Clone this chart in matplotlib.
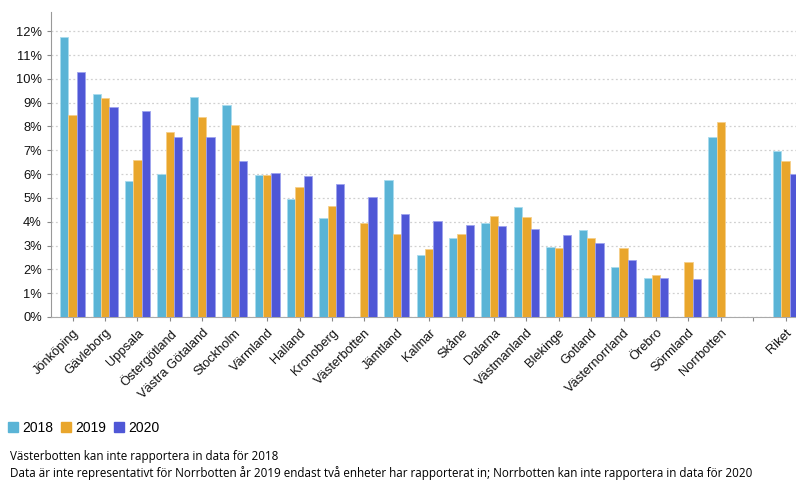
import numpy as np
import matplotlib.pyplot as plt
from matplotlib.patches import Patch
from matplotlib.ticker import FuncFormatter

plt.rcParams['font.family'] = ['Liberation Sans', 'DejaVu Sans']

# data
regions = ['Jönköping', 'Gävleborg', 'Uppsala', 'Östergötland', 'Västra Götaland',
           'Stockholm', 'Värmland', 'Halland', 'Kronoberg', 'Västerbotten',
           'Jämtland', 'Kalmar', 'Skåne', 'Dalarna', 'Västmanland', 'Blekinge',
           'Gotland', 'Västernorrland', 'Örebro', 'Sörmland', 'Norrbotten', '', 'Riket']
nan = np.nan
v2018 = [11.74, 9.38, 5.70, 5.99, 9.22, 8.92, 5.98, 4.94, 4.17, nan, 5.77, 2.61,
         3.31, 3.94, 4.61, 2.94, 3.64, 2.09, 1.65, nan, 7.54, nan, 6.96]
v2019 = [8.47, 9.19, 6.58, 7.76, 8.39, 8.05, 5.98, 5.46, 4.66, 3.94, 3.47, 2.84,
         3.50, 4.23, 4.20, 2.91, 3.31, 2.89, 1.78, 2.30, 8.18, nan, 6.57]
v2020 = [10.28, 8.80, 8.66, 7.56, 7.54, 6.53, 6.06, 5.91, 5.57, 5.03, 4.34, 4.05,
         3.87, 3.81, 3.70, 3.43, 3.11, 2.38, 1.65, 1.61, nan, nan, 5.99]
years = ['2018', '2019', '2020']
colors = ['#5ab4d6', '#e9a62c', '#4f57d6']
edges = ['#a9dcee', '#f6cf8a', '#9ea3ee']

fig = plt.figure(figsize=(7.96, 4.8), dpi=100)
ax = fig.add_axes([0.064, 0.3396, 0.936, 0.635])

x = np.arange(len(regions))
w = 0.257
for i, vals in enumerate([v2018, v2019, v2020]):
    ax.bar(x + (i - 1) * w, vals, width=w, color=colors[i],
           edgecolor=edges[i], linewidth=0.6, zorder=3)

ax.set_ylim(0, 12.8)
ax.set_xlim(-0.67, 22.32)
ax.set_yticks(range(0, 13))
ax.yaxis.set_major_formatter(FuncFormatter(lambda v, p: f'{v:.0f}%'))
ax.set_xticks(x)
ax.set_xticklabels(regions, rotation=45, ha='right', rotation_mode='anchor')
ax.tick_params(axis='both', labelsize=9.3, colors='#888888', length=3, width=0.8,
               labelcolor='#111111')
ax.tick_params(axis='x', pad=4)
ax.grid(axis='y', linestyle=(0, (1.5, 2)), color='#d0d0d0', linewidth=0.9, zorder=0)
for s in ['top', 'right']:
    ax.spines[s].set_visible(False)
ax.spines['left'].set_color('#999999')
ax.spines['bottom'].set_color('#aaaaaa')

handles = [Patch(color=c) for c in colors]
fig.legend(handles, years, loc='center left', bbox_to_anchor=(0.003, 0.108),
           ncol=3, frameon=False, fontsize=10, handlelength=0.7, handleheight=0.7,
           handletextpad=0.3, columnspacing=0.6, borderaxespad=0)

fig.text(0.013, 0.048, 'Västerbotten kan inte rapportera in data för 2018',
         fontsize=8.4, va='center', family=['Open Sans', 'DejaVu Sans'])
fig.text(0.013, 0.015, 'Data är inte representativt för Norrbotten år 2019 endast två enheter har '
         'rapporterat in; Norrbotten kan inte rapportera in data för 2020',
         fontsize=8.4, va='center', family=['Open Sans', 'DejaVu Sans'])

fig.savefig('out.png', dpi=100)
